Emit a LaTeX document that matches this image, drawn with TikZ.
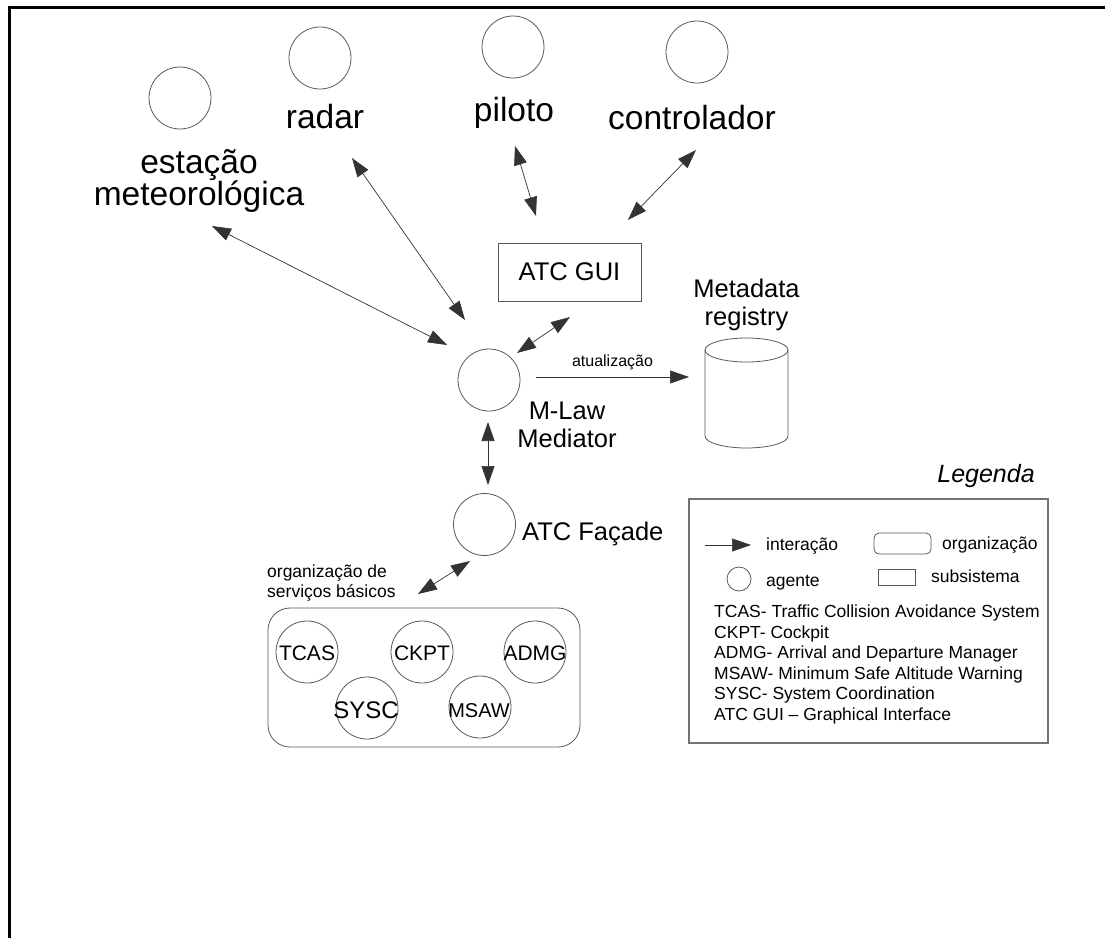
\documentclass[tikz,border=0pt]{standalone}
\usepackage{fontspec}
\setmainfont{Liberation Sans}
\usetikzlibrary{arrows.meta}

\begin{document}
\begin{tikzpicture}[x=1pt,y=-1pt,
  agent/.style={circle, draw=black!65, line width=0.8pt, minimum size=62pt, inner sep=0pt},
  small agent/.style={circle, draw=black!65, line width=0.8pt, minimum size=24pt, inner sep=0pt},
  bigtext/.style={inner sep=0pt, font=\fontsize{33.5}{32}\selectfont},
  midtext/.style={inner sep=0pt, font=\fontsize{25.5}{27.5}\selectfont},
  smalltext/.style={inner sep=0pt, font=\fontsize{17.5}{20.6}\selectfont},
  svctext/.style={inner sep=0pt, font=\fontsize{21}{21}\selectfont},
  link/.style={draw=black!80, line width=0.7pt, >={Triangle[length=19pt,width=13pt]}, <->},
  oneway/.style={draw=black!80, line width=0.7pt, >={Triangle[length=19pt,width=13pt]}, ->},
  box/.style={draw=black!65, line width=0.8pt}
]
\useasboundingbox (0,0) rectangle (1105,937);

% outer frame
\draw[line width=2.8pt] (9.5,945) -- (9.5,7.5) -- (1115,7.5);

% external agents
\node[agent] (est) at (180,98) {};
\node[agent] (rad) at (320,58) {};
\node[agent] (pil) at (513,47) {};
\node[agent] (con) at (697,52) {};

\node[bigtext, align=center] (estL) at (199,180.5) {estação\\meteorológica};
\node[bigtext, anchor=base] (radL) at (325,128) {radar};
\node[bigtext, anchor=base] (pilL) at (514,121) {piloto};
\node[bigtext, anchor=base] (conL) at (692,129) {controlador};

% ATC GUI subsystem
\node[box, midtext, minimum width=143pt, minimum height=58pt] (gui) at (569.5,272) {ATC GUI};

% mediator
\node[agent] (med) at (489,380) {};
\node[midtext, align=center] (medL) at (567,425) {M-Law\\Mediator};

% metadata registry
\node[midtext, align=center] (regL) at (746.5,305) {Metadata\\registry};
\draw[box] (705,350) -- (705,436) arc[start angle=180, end angle=360, x radius=41.5pt, y radius=12pt] -- (788,350);
\draw[box] (746.5,350) ellipse [x radius=41.5pt, y radius=12pt];
\coordinate (regW) at (689,377);

% facade
\node[agent] (fac) at (484.5,524.5) {};
\node[midtext, anchor=base west] (facL) at (522,540) {ATC Façade};

% basic services organization
\node[smalltext, align=left, anchor=west] (orgL) at (267,583) {organização de\\serviços básicos};
\draw[box, rounded corners=22pt] (268,608) rectangle (580,747);
\node[agent] (tcas) at (307,652) {};
\node[agent] (ckpt) at (422,652) {};
\node[agent] (admg) at (535,652) {};
\node[agent] (sysc) at (367,708) {};
\node[agent] (msaw) at (480,707) {};
\node[svctext] (tcasL) at (307,653) {TCAS};
\node[svctext] (ckptL) at (422,653) {CKPT};
\node[svctext] (admgL) at (535,653) {ADMG};
\node[inner sep=0pt, font=\fontsize{24}{24}\selectfont] (syscL) at (366,710) {SYSC};
\node[inner sep=0pt, font=\fontsize{20}{20}\selectfont] (msawL) at (479,711) {MSAW};

% interaction end points
\coordinate (e1) at (212,226);  \coordinate (e2) at (447,345);
\coordinate (r1) at (352,158);  \coordinate (r2) at (465,320);
\coordinate (p1) at (515,146);  \coordinate (p2) at (536,216);
\coordinate (c1) at (696,150);  \coordinate (c2) at (628,220);
\coordinate (g1) at (570,317);  \coordinate (g2) at (517,353);
\coordinate (u1) at (536,377);
\coordinate (v1) at (488,422);  \coordinate (v2) at (488,485);
\coordinate (f1) at (470,561);  \coordinate (f2) at (418,594);

\draw[link] (e1) -- (e2);
\draw[link] (r1) -- (r2);
\draw[link] (p1) -- (p2);
\draw[link] (c1) -- (c2);
\draw[link] (g1) -- (g2);
\draw[link] (v1) -- (v2);
\draw[link] (f1) -- (f2);
\draw[oneway] (u1) -- (regW) node[midway, above=7pt, inner sep=0pt, font=\fontsize{16}{16}\selectfont] (updL) {atualização};

% legend
\node[inner sep=0pt, font=\fontsize{25}{25}\selectfont\itshape] (legT) at (986,476) {Legenda};
\draw[draw=black!55, line width=1.5pt] (689,499) rectangle (1048,743);
\coordinate (la1) at (705,545); \coordinate (la2) at (751,545);
\draw[oneway] (la1) -- (la2);
\node[smalltext, anchor=base west] (lInt) at (766,550) {interação};
\draw[box, rounded corners=5pt] (874,533) rectangle (931,554);
\node[smalltext, anchor=base west] (lOrg) at (942,549) {organização};
\node[small agent] (lAg) at (739,579) {};
\node[smalltext, anchor=base west] (lAgT) at (766,586) {agente};
\draw[box] (878,569) rectangle (915,585);
\node[smalltext, anchor=base west] (lSub) at (931,582) {subsistema};
\node[smalltext, align=left, anchor=west] (lAbbr) at (714,664.5) {TCAS- Traffic Collision Avoidance System\\
CKPT- Cockpit\\
ADMG- Arrival and Departure Manager\\
MSAW- Minimum Safe Altitude Warning\\
SYSC- System Coordination\\
ATC GUI -- Graphical Interface};
\end{tikzpicture}
\end{document}
